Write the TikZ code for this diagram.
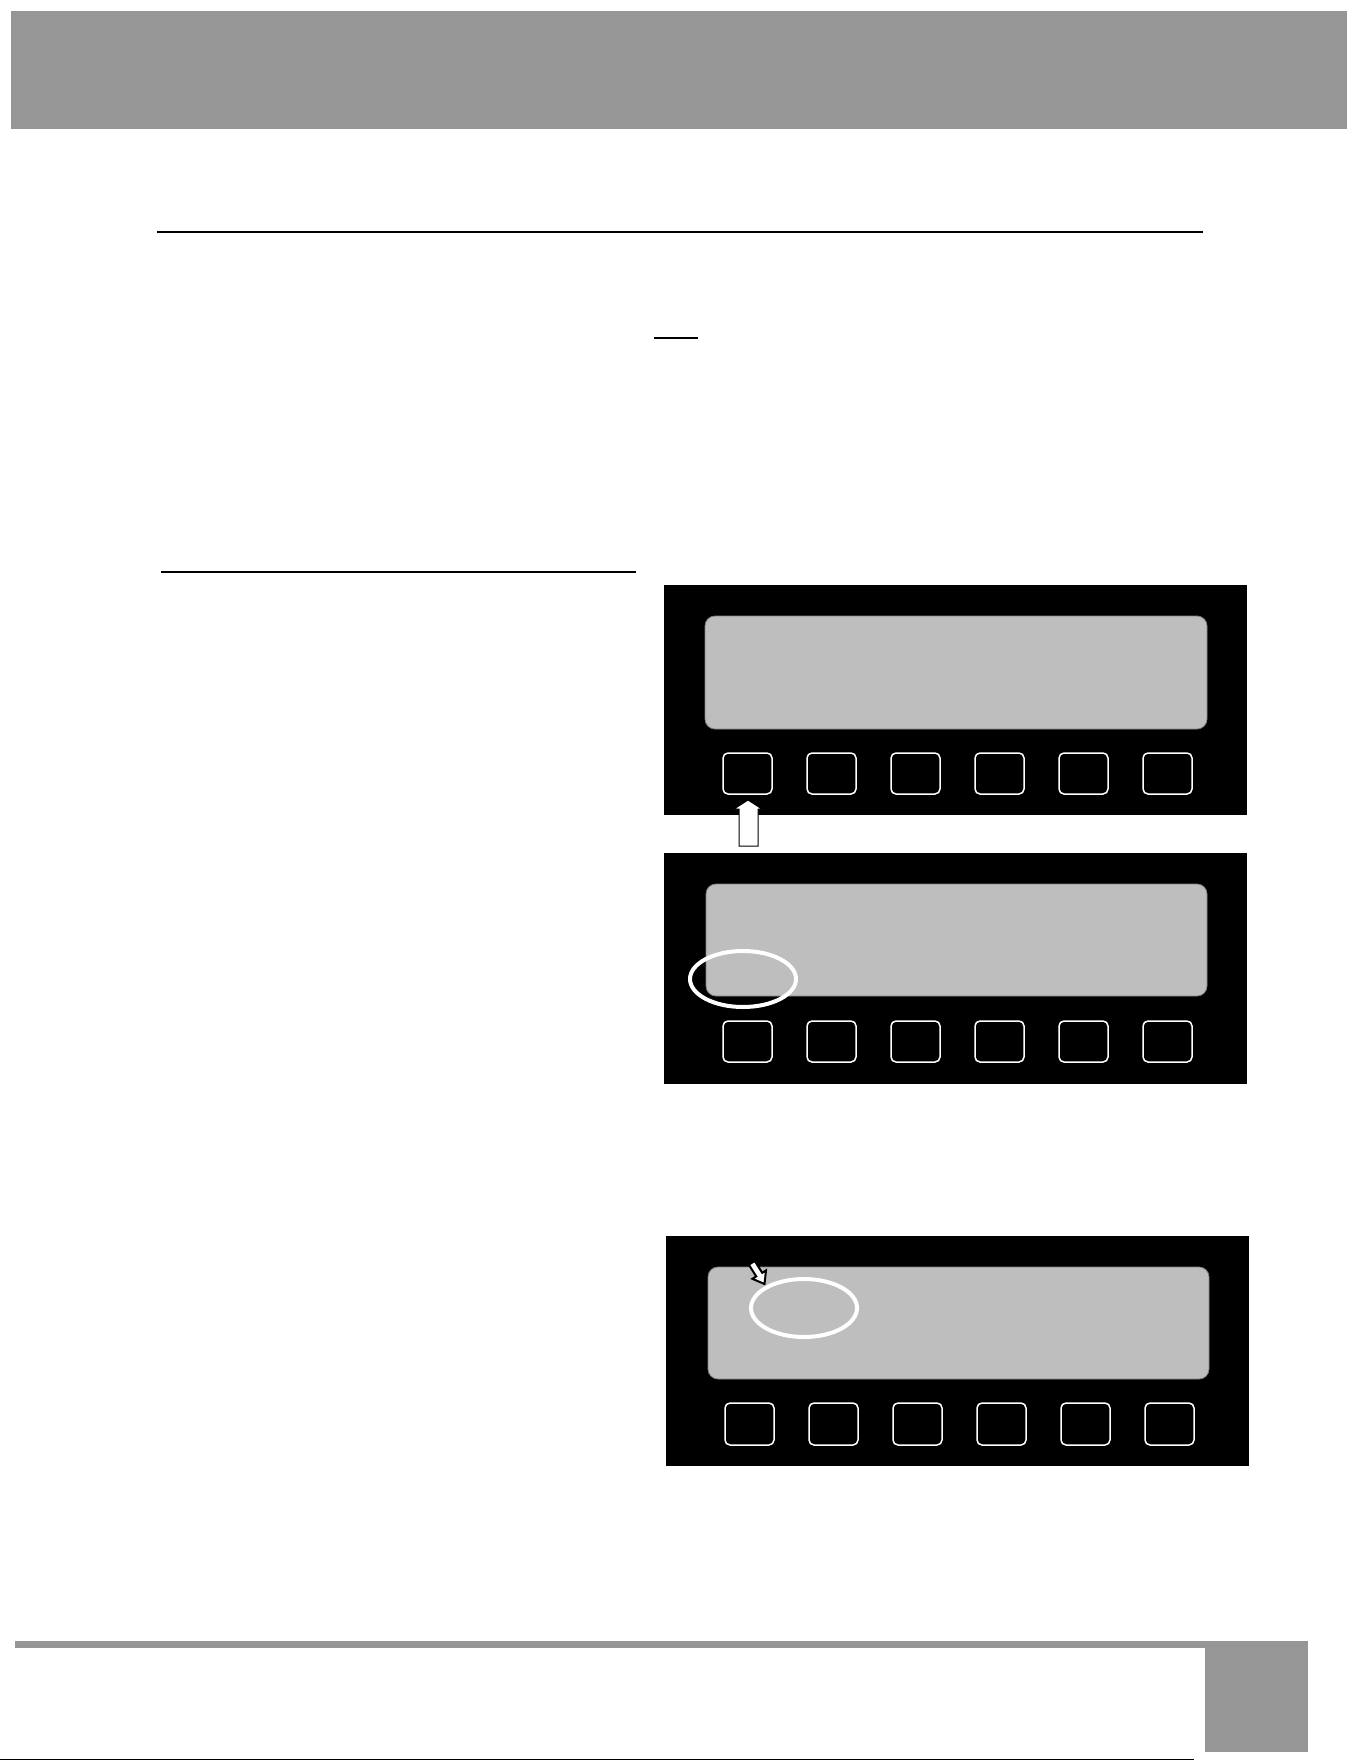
\documentclass[tikz,border=0pt]{standalone}
\usepackage{tikz}
\definecolor{bandgray}{RGB}{150,150,150}
\definecolor{lcdgray}{RGB}{190,190,190}

\begin{document}
\begin{tikzpicture} [x=1pt,y=-1pt]

%\draw [step=100pt, dotted, thick] (0,0) grid (1361,1761);
\useasboundingbox (0,0) rectangle (1361,1761);

\fill [bandgray] (11,11) rectangle (1347,129);
\draw [line width=1.5pt] (157,232) -- (1203,232);
\draw [line width=2.2pt] (654,338) -- (698,338);
\draw [line width=2pt] (161,572) -- (636,572);

\fill (664,585) rectangle (1247,815);
\filldraw [fill=lcdgray, draw=gray, line width=0.8pt, rounded corners=10pt] (705,616) rectangle (1207,729);
\draw [white, line width=1.5pt, rounded corners=5pt] (723,753) rectangle (772,794);
\draw [white, line width=1.5pt, rounded corners=5pt] (807,753) rectangle (856,794);
\draw [white, line width=1.5pt, rounded corners=5pt] (891,753) rectangle (940,794);
\draw [white, line width=1.5pt, rounded corners=5pt] (975,753) rectangle (1024,794);
\draw [white, line width=1.5pt, rounded corners=5pt] (1059,753) rectangle (1108,794);
\draw [white, line width=1.5pt, rounded corners=5pt] (1143,753) rectangle (1192,794);
\filldraw [fill=white, line width=1pt] (739,846) -- (739,809) -- (734,809) -- (748,800) -- (762,809) -- (758,809) -- (758,846) -- cycle;

\fill (664,853) rectangle (1247,1084);
\filldraw [fill=lcdgray, draw=gray, line width=0.8pt, rounded corners=10pt] (706,884) rectangle (1207,996);
\draw [white, line width=1.5pt, rounded corners=5pt] (723,1021) rectangle (772,1062);
\draw [white, line width=1.5pt, rounded corners=5pt] (807,1021) rectangle (856,1062);
\draw [white, line width=1.5pt, rounded corners=5pt] (891,1021) rectangle (940,1062);
\draw [white, line width=1.5pt, rounded corners=5pt] (975,1021) rectangle (1024,1062);
\draw [white, line width=1.5pt, rounded corners=5pt] (1059,1021) rectangle (1108,1062);
\draw [white, line width=1.5pt, rounded corners=5pt] (1143,1021) rectangle (1192,1062);
\draw [white, line width=4pt] (743,979) ellipse [x radius=53, y radius=28];

\fill (666,1236) rectangle (1249,1466);
\filldraw [fill=lcdgray, draw=gray, line width=0.8pt, rounded corners=10pt] (708,1267) rectangle (1209,1379);
\draw [white, line width=1.5pt, rounded corners=5pt] (725,1403) rectangle (774,1445);
\draw [white, line width=1.5pt, rounded corners=5pt] (809,1403) rectangle (858,1445);
\draw [white, line width=1.5pt, rounded corners=5pt] (893,1403) rectangle (942,1445);
\draw [white, line width=1.5pt, rounded corners=5pt] (977,1403) rectangle (1026,1445);
\draw [white, line width=1.5pt, rounded corners=5pt] (1061,1403) rectangle (1110,1445);
\draw [white, line width=1.5pt, rounded corners=5pt] (1145,1403) rectangle (1194,1445);
\draw [white, line width=4pt] (804,1308) ellipse [x radius=53, y radius=29];
\filldraw [fill=white, line width=2pt, line join=miter] (764.5,1284) -- (766.0,1270.4) -- (762.2,1272.8) -- (754.8,1261.0) -- (748.8,1264.6) -- (756.2,1276.4) -- (752.4,1278.8) -- cycle;

\fill [bandgray] (15,1641) rectangle (1308,1648);
\fill [bandgray] (1205,1641) rectangle (1308,1752);
\draw [line width=1pt] (0,1759.5) -- (1194,1759.5);

\end{tikzpicture}
\end{document}
